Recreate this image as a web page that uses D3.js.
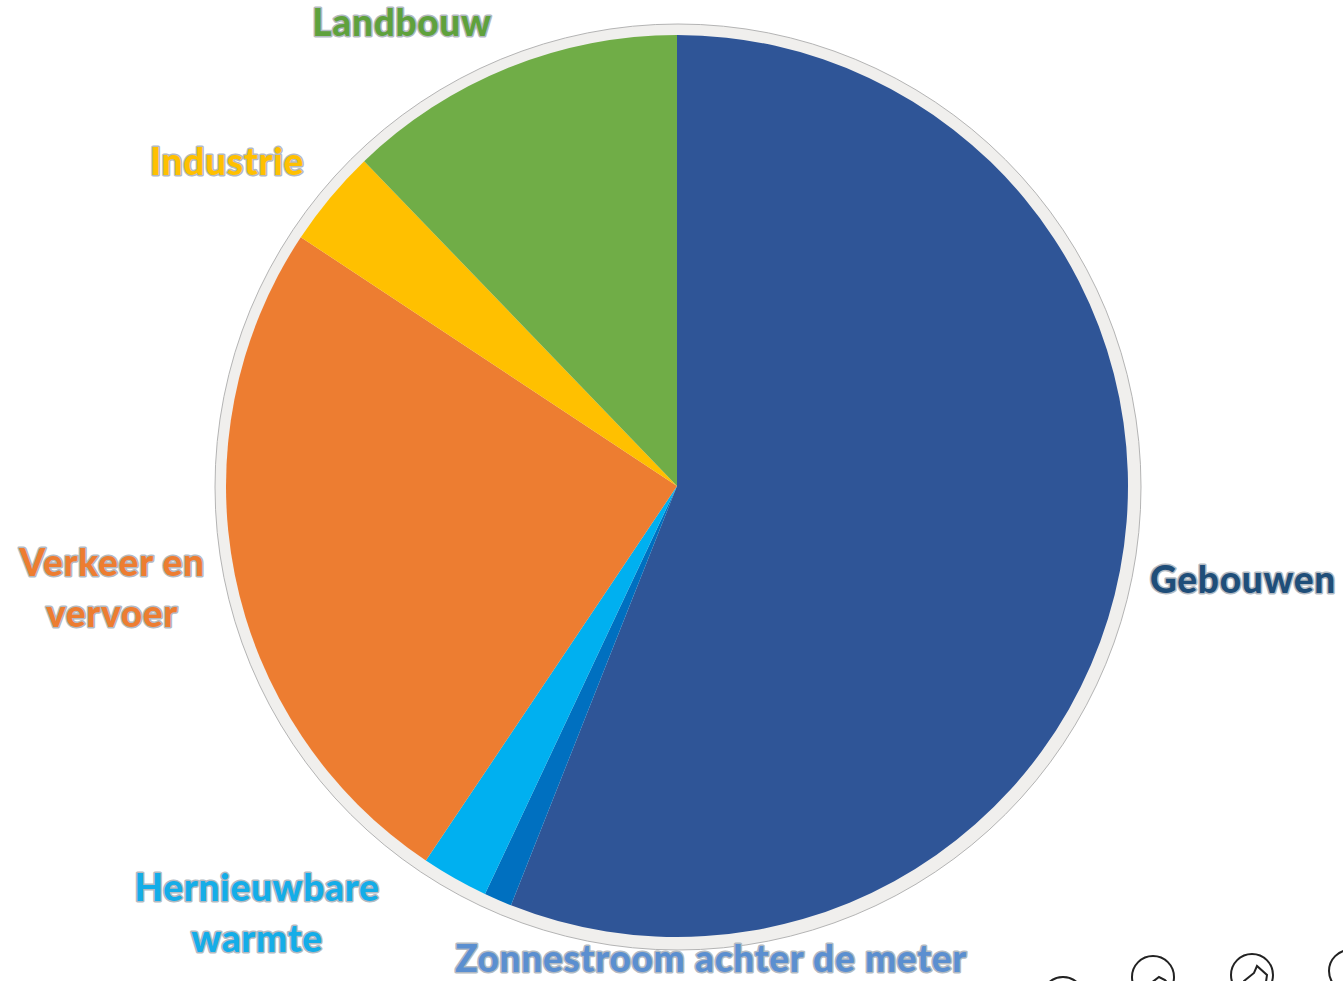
<!DOCTYPE html>
<html>
<head>
<meta charset="utf-8">
<script src="https://cdn.jsdelivr.net/npm/d3@7"></script>
<style>
  html, body { margin: 0; background: #fff; overflow: hidden; }
  svg { display: block; }
  .label {
    font-family: Lato, "Open Sans", sans-serif;
    font-weight: 900;
    font-size: 37px;
    letter-spacing: 0.7px;
    text-anchor: middle;
    paint-order: stroke;
    stroke: #b3bac2;
    stroke-width: 3px;
    stroke-linejoin: round;
  }
</style>
</head>
<body>
<script>
// Data, clockwise from the top (percent)
const categories = ["Gebouwen", "Zonnestroom achter de meter", "Hernieuwbare warmte", "Verkeer en vervoer", "Industrie", "Landbouw"];
const values = [56, 1, 2.4, 24.9, 3.5, 12.2];
const colors = ["#2f5597", "#0070c0", "#00b0f0", "#ed7d31", "#ffc000", "#70ad47"];
const labelColors = ["#1f4e79", "#5b8fd0", "#14ade8", "#ed7d31", "#ffc000", "#5fa13c"];

const outerWidth = 1343;
const outerHeight = 981;
const cx = 677;
const cy = 486;
const radius = 451;

// Where the labels sit, one list of lines per category
const labelSpots = [
  { lines: ["Gebouwen"], x: 1243, y: 593 },
  { lines: ["Zonnestroom achter de meter"], x: 711, y: 972 },
  { lines: ["Hernieuwbare", "warmte"], x: 257, y: 901 },
  { lines: ["Verkeer en", "vervoer"], x: 112, y: 576 },
  { lines: ["Industrie"], x: 227, y: 175 },
  { lines: ["Landbouw"], x: 402, y: 36 }
];

const svg = d3.select("body").append("svg")
  .attr("width", outerWidth)
  .attr("height", outerHeight)
  .attr("viewBox", `0 0 ${outerWidth} ${outerHeight}`);

// Pale rim round the pie with a thin grey edge
svg.append("circle")
  .attr("cx", cx + 1)
  .attr("cy", cy + 1)
  .attr("r", radius + 12)
  .attr("fill", "#f0efed")
  .attr("stroke", "#b4b4b4")
  .attr("stroke-width", 1);

const pie = d3.pie().sort(null).value(d => d);
const arc = d3.arc().innerRadius(0).outerRadius(radius);

svg.append("g")
  .attr("transform", `translate(${cx},${cy})`)
  .selectAll("path")
  .data(pie(values))
  .join("path")
  .attr("d", arc)
  .attr("fill", (d, i) => colors[i]);

// Labels
const labels = svg.selectAll("text.label")
  .data(categories)
  .join("text")
  .attr("class", "label")
  .attr("fill", (d, i) => labelColors[i]);

labels.each(function (d, i) {
  const spot = labelSpots[i];
  d3.select(this).selectAll("tspan")
    .data(spot.lines)
    .join("tspan")
    .attr("x", spot.x)
    .attr("y", (l, j) => spot.y + j * 51)
    .text(l => l);
});

// The icons cut off by the bottom edge of the picture
const icons = [
  { x: 1063, y: 998, r: 21, d: "" },
  { x: 1153, y: 977, r: 21, d: "M-14,17 L-8,8 L-2,6 L6,0 L12,3 L18,10" },
  { x: 1252, y: 975, r: 21, d: "M-10,21 L-8,6 L2,-2 L5,-9 L15,0 L12,21" },
  { x: 1350, y: 971, r: 21, d: "M-14,12 L-8,19" }
];

svg.append("g")
  .selectAll("g")
  .data(icons)
  .join("g")
  .attr("transform", d => `translate(${d.x},${d.y})`)
  .each(function (d) {
    const icon = d3.select(this);
    icon.append("circle")
      .attr("r", d.r)
      .attr("fill", "none")
      .attr("stroke", "#222")
      .attr("stroke-width", 2);
    icon.append("path")
      .attr("d", d.d)
      .attr("fill", "none")
      .attr("stroke", "#222")
      .attr("stroke-width", 2);
  });
</script>
</body>
</html>
